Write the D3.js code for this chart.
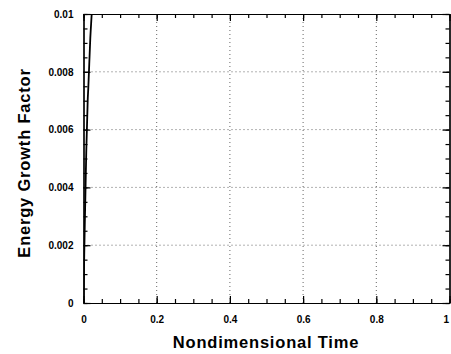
<!DOCTYPE html>
<html><head><meta charset="utf-8">
<script src="https://cdn.jsdelivr.net/npm/d3@7"></script>
<style>body{margin:0;background:#fff}svg{display:block}text{font-family:"Liberation Sans",Arial,sans-serif;font-weight:bold;fill:#000}</style>
</head><body><svg id="c" width="451" height="354"></svg>
<script>
const xTicks = [0, 0.2, 0.4, 0.6, 0.8, 1];
const xTickLabels = ["0", "0.2", "0.4", "0.6", "0.8", "1"];
const yTicks = [0, 0.002, 0.004, 0.006, 0.008, 0.01];
const yTickLabels = ["0", "0.002", "0.004", "0.006", "0.008", "0.01"];
const timeVals = [0, 0.001, 0.002, 0.0035, 0.0049, 0.0075, 0.0115, 0.0131, 0.0186, 0.0224, 0.025];
const energyVals = [0, 0.0008, 0.00166, 0.0027, 0.00356, 0.0052, 0.00702, 0.00744, 0.00917, 0.0100, 0.0106];

const svg = d3.select("#c");
const m = {l:83.5, r:449.5, t:14, b:303};
const x = d3.scaleLinear().domain([0,1]).range([m.l, m.r]);
const y = d3.scaleLinear().domain([0,0.01]).range([m.b, m.t]);

// grid
svg.append("g").selectAll("line").data(xTicks.slice(1,-1)).join("line")
  .attr("x1", d=>x(d)).attr("x2", d=>x(d)).attr("y1", m.t).attr("y2", m.b)
  .attr("stroke", "#666").attr("stroke-width", 1).attr("stroke-dasharray", "1,3");
svg.append("g").selectAll("line").data(yTicks.slice(1,-1)).join("line")
  .attr("x1", m.l).attr("x2", m.r).attr("y1", d=>y(d)).attr("y2", d=>y(d))
  .attr("stroke", "#666").attr("stroke-width", 1).attr("stroke-dasharray", "1,3");

const xMinor = d3.range(0, 1.0001, 0.05);
const yMinor = d3.range(0, 0.01001, 0.0005);

// axes with inward ticks
const axB = d3.axisBottom(x).tickValues(xTicks).tickFormat((d,i)=>xTickLabels[i]).tickSizeInner(-7).tickSizeOuter(0).tickPadding(13);
const axT = d3.axisTop(x).tickValues(xTicks).tickFormat("").tickSizeInner(-7).tickSizeOuter(0);
const axL = d3.axisLeft(y).tickValues(yTicks).tickFormat((d,i)=>yTickLabels[i]).tickSizeInner(-7).tickSizeOuter(0).tickPadding(10);
const axR = d3.axisRight(y).tickValues(yTicks).tickFormat("").tickSizeInner(-7).tickSizeOuter(0);
const axBm = d3.axisBottom(x).tickValues(xMinor).tickFormat("").tickSizeInner(-4).tickSizeOuter(0);
const axTm = d3.axisTop(x).tickValues(xMinor).tickFormat("").tickSizeInner(-4).tickSizeOuter(0);
const axLm = d3.axisLeft(y).tickValues(yMinor).tickFormat("").tickSizeInner(-4).tickSizeOuter(0);
const axRm = d3.axisRight(y).tickValues(yMinor).tickFormat("").tickSizeInner(-4).tickSizeOuter(0);

function styl(g){ g.selectAll("path,line").attr("stroke","#000").attr("stroke-width",1.2); g.selectAll("text").attr("font-size",10).attr("font-weight","bold").attr("font-family","Liberation Sans, Arial, sans-serif").attr("fill","#000"); }
const gB = svg.append("g").attr("transform",`translate(0,${m.b})`).call(axB).call(styl);
gB.selectAll(".tick text").filter(d=>d===1).attr("text-anchor","end").attr("dx","-1");
svg.append("g").attr("transform",`translate(0,${m.b})`).call(axBm).call(styl);
svg.append("g").attr("transform",`translate(0,${m.t})`).call(axT).call(styl);
svg.append("g").attr("transform",`translate(0,${m.t})`).call(axTm).call(styl);
svg.append("g").attr("transform",`translate(${m.l},0)`).call(axL).call(styl);
svg.append("g").attr("transform",`translate(${m.l},0)`).call(axLm).call(styl);
svg.append("g").attr("transform",`translate(${m.r},0)`).call(axR).call(styl);
svg.append("g").attr("transform",`translate(${m.r},0)`).call(axRm).call(styl);

// curve
svg.append("clipPath").attr("id","clp").append("rect").attr("x",m.l).attr("y",m.t).attr("width",m.r-m.l).attr("height",m.b-m.t);
const pts = timeVals.map((t,i)=>[t, energyVals[i]]);
svg.append("path").attr("clip-path","url(#clp)").datum(pts)
  .attr("d", d3.line().x(d=>x(d[0])).y(d=>y(d[1])).curve(d3.curveMonotoneX))
  .attr("fill","none").attr("stroke","#000").attr("stroke-width",1.8);

// labels
svg.append("text").attr("x", 266).attr("y", 348).attr("text-anchor","middle").attr("font-size",16.5).attr("letter-spacing",0.8).text("Nondimensional Time");
svg.append("text").attr("transform","translate(30,163) rotate(-90)").attr("text-anchor","middle").attr("font-size",16.5).attr("letter-spacing",0.8).text("Energy Growth Factor");
</script></body></html>
